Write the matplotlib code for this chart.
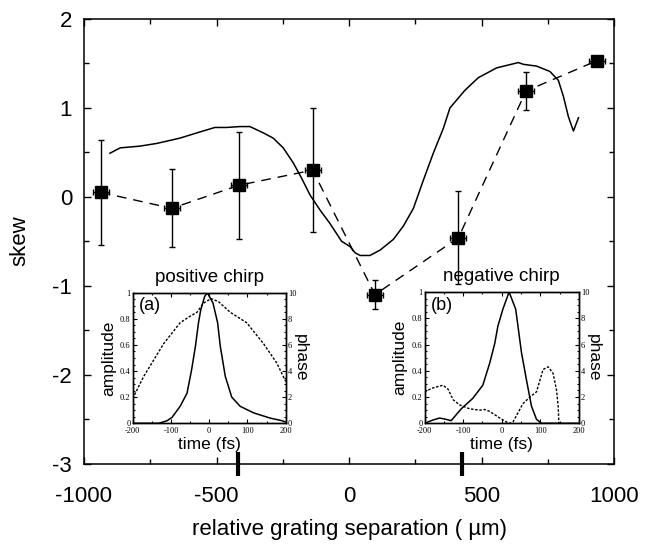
import matplotlib
matplotlib.use('Agg')
import matplotlib.pyplot as plt
from matplotlib.ticker import MultipleLocator, FixedLocator

plt.rcParams['font.family'] = ['Liberation Sans', 'DejaVu Sans']
plt.rcParams['axes.unicode_minus'] = False

# ---- main data: measured skew vs grating separation ----
x_pts = [-937, -669, -415, -137, 98, 413, 668, 935]
y_pts = [0.05, -0.13, 0.13, 0.30, -1.10, -0.46, 1.19, 1.53]
y_err = [0.59, 0.44, 0.60, 0.70, 0.16, 0.52, 0.21, 0.03]
x_err = [30, 30, 30, 30, 30, 30, 30, 30]

# ---- main data: calculated skew curve ----
curve_x = [-902, -864, -789, -726, -638, -562, -506, -462, -411, -374, -324,
           -286, -248, -210, -179, -147, -109, -72, -28, 4, 23, 42, 79, 117,
           167, 205, 243, 281, 318, 356, 381, 438, 488, 557, 639, 658, 708,
           758, 790, 809, 828, 847, 866]
curve_y = [0.49, 0.55, 0.57, 0.60, 0.66, 0.73, 0.78, 0.78, 0.79, 0.79, 0.72,
           0.66, 0.55, 0.38, 0.21, 0.02, -0.15, -0.30, -0.50, -0.56, -0.63,
           -0.66, -0.66, -0.60, -0.48, -0.33, -0.13, 0.19, 0.49, 0.77, 1.0,
           1.2, 1.34, 1.45, 1.51, 1.49, 1.47, 1.41, 1.31, 1.13, 0.90, 0.74, 0.89]

# separations where the insets were taken
inset_sep = [-419, 425]

# ---- inset (a): positive chirp ----
a_amp_t = [-200, -160, -132, -110, -97, -76, -58, -46, -36, -28, -22, -12, -5,
           10, 22, 29, 42, 59, 81, 116, 159, 190, 200]
a_amp = [0.0, 0.0, 0.0, 0.02, 0.046, 0.13, 0.23, 0.41, 0.59, 0.77, 0.87, 0.97,
         1.0, 0.92, 0.77, 0.59, 0.36, 0.20, 0.13, 0.08, 0.04, 0.02, 0.01]
a_phase_t = [-200, -171, -119, -76, -50, -32, -15, 5, 25, 40, 55, 98, 142, 177, 200]
a_phase = [1.9, 3.6, 6.1, 7.7, 8.2, 8.5, 9.2, 9.55, 9.3, 8.9, 8.5, 7.7, 6.1, 4.6, 3.2]

# ---- inset (b): negative chirp ----
b_amp_t = [-200, -178, -161, -144, -131, -105, -75, -49, -31, -18, -10, 3, 19,
           36, 42, 51, 64, 77, 90, 103, 200]
b_amp = [0.0, 0.025, 0.04, 0.03, 0.02, 0.11, 0.19, 0.29, 0.46, 0.61, 0.74,
         0.87, 1.0, 0.87, 0.74, 0.54, 0.33, 0.13, 0.03, 0.0, 0.0]
b_phase_t = [-200, -178, -152, -139, -126, -109, -83, -57, -44, -31, -5, 12, 22,
             29, 55, 73, 90, 107, 120, 133, 142, 146, 148]
b_phase = [2.4, 2.7, 2.9, 2.6, 1.8, 1.4, 1.1, 1.0, 1.05, 0.9, 0.4, 0.1, 0.0,
           0.1, 1.5, 2.0, 2.4, 4.1, 4.3, 3.8, 2.5, 1.3, 0.0]

W, H = 651, 550
fig = plt.figure(figsize=(W / 100, H / 100), dpi=100)

# main axes
ax = fig.add_axes([84 / W, (H - 463.5) / H, 530 / W, 444.5 / H])
ax.plot(curve_x, curve_y, color='k', lw=1.1, zorder=3)
ax.plot(x_pts, y_pts, color='k', lw=1.0, dashes=(7, 5), zorder=3)
ax.errorbar(x_pts, y_pts, yerr=y_err, xerr=x_err, fmt='s', color='k', ms=9,
            capsize=2.5, elinewidth=1.0, capthick=1.0, zorder=5)
for xs in inset_sep:
    ax.plot([xs, xs], [-2.87, -3.14], color='k', lw=3, solid_capstyle='butt',
            clip_on=False, zorder=6)
ax.set_xlim(-1000, 1000)
ax.set_ylim(-3, 2)
ax.xaxis.set_major_locator(MultipleLocator(500))
ax.xaxis.set_minor_locator(MultipleLocator(250))
ax.yaxis.set_major_locator(MultipleLocator(1))
ax.yaxis.set_minor_locator(MultipleLocator(0.5))
ax.tick_params(which='both', direction='in', top=True, right=True, width=1)
ax.tick_params(which='major', length=5)
ax.tick_params(which='minor', length=3.3)
ax.tick_params(axis='x', pad=16, labelsize=16)
ax.tick_params(axis='y', pad=8.5, labelsize=16)
for s in ax.spines.values():
    s.set_linewidth(1.1)

fig.text(349 / W, 1 - 530 / H, 'relative grating separation ( µm)',
         ha='center', va='center', fontsize=16)
fig.text(20 / W, 1 - 241 / H, 'skew', rotation=90, ha='center', va='center',
         fontsize=16)


def make_inset(left, right, top, bottom, t_amp, amp, t_ph, ph, tag, title):
    axi = fig.add_axes([left / W, (H - bottom) / H, (right - left) / W,
                        (bottom - top) / H])
    axi.set_facecolor('white')
    axi.plot(t_amp, amp, color='k', lw=1.1)
    axi.set_xlim(-200, 200)
    axi.set_ylim(0, 1)
    axi.xaxis.set_major_locator(FixedLocator([-200, -100, 0, 100, 200]))
    axi.set_xticklabels(['-200', '-100', '0', '100', '200'])
    axi.xaxis.set_minor_locator(MultipleLocator(50))
    axi.yaxis.set_major_locator(FixedLocator([0, 0.2, 0.4, 0.6, 0.8, 1.0]))
    axi.set_yticklabels(['0', '0.2', '0.4', '0.6', '0.8', '1'])
    axi.yaxis.set_minor_locator(MultipleLocator(0.05))
    axi.tick_params(which='both', direction='in', top=True, labelsize=6,
                    labelfontfamily='Liberation Serif', pad=1.5, width=0.8)
    axi.tick_params(axis='x', pad=3)
    axi.tick_params(which='major', length=3)
    axi.tick_params(which='minor', length=1.6)
    axi2 = axi.twinx()
    axi2.plot(t_ph, ph, color='k', lw=1.0, dashes=(1.8, 1.2))
    axi2.set_ylim(0, 10)
    axi2.yaxis.set_major_locator(FixedLocator([0, 2, 4, 6, 8, 10]))
    axi2.yaxis.set_minor_locator(MultipleLocator(0.5))
    axi2.tick_params(which='both', direction='in', labelsize=6,
                     labelfontfamily='Liberation Serif', pad=1.5, width=0.8)
    axi2.tick_params(which='major', length=3)
    axi2.tick_params(which='minor', length=1.6)
    for a in (axi, axi2):
        for s in a.spines.values():
            s.set_linewidth(1.0)
    axi.text(-0.157, 0.5, 'amplitude', transform=axi.transAxes, rotation=90,
             ha='center', va='center', fontsize=12.5)
    axi.text(1.095, 0.5, 'phase', transform=axi.transAxes, rotation=-90,
             ha='center', va='center', fontsize=12.5)
    axi.text(0.5, -0.16, 'time (fs)', transform=axi.transAxes,
             ha='center', va='center', fontsize=12.5)
    axi.text(0.5, 1.12, title, transform=axi.transAxes,
             ha='center', va='center', fontsize=13.5)
    axi.text(0.11, 0.90, tag, transform=axi.transAxes,
             ha='center', va='center', fontsize=13)
    return axi


make_inset(132.7, 285.7, 292.7, 423.3, a_amp_t, a_amp, a_phase_t, a_phase,
           '(a)', 'positive chirp')
make_inset(424.5, 579, 292, 423.3, b_amp_t, b_amp, b_phase_t, b_phase,
           '(b)', 'negative chirp')

fig.savefig('out.png', dpi=100)
